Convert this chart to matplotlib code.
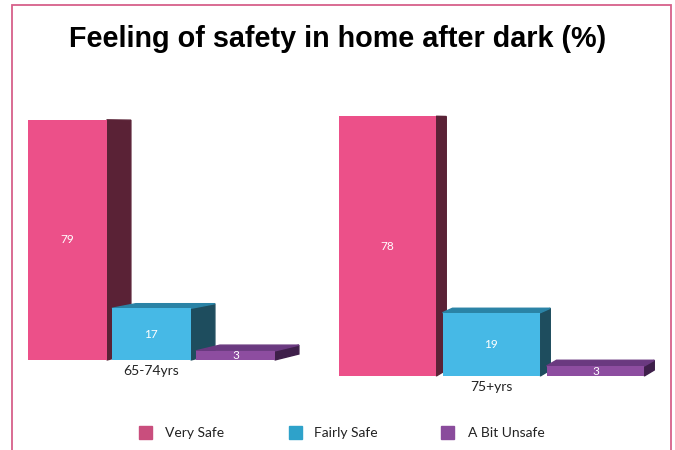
import matplotlib.pyplot as plt
from matplotlib.patches import Polygon, Rectangle

groups = ["65-74yrs", "75+yrs"]
series = ["Very Safe", "Fairly Safe", "A Bit Unsafe"]
values = [[79, 17, 3], [78, 19, 3]]

front_colors = ["#EC5089", "#46B9E6", "#8D4DA0"]
side_colors = ["#5A2236", "#1E4D5E", "#3E1F4A"]
top_colors = ["#F07AA5", "#2A83A6", "#6A3980"]
legend_colors = ["#C94E7D", "#2EA2CA", "#8A4C9C"]

W, H = 675, 450
fig = plt.figure(figsize=(W / 100, H / 100), dpi=100)

# per group: left px, bar pitch px, baseline px, px per unit, side depth px
layout = [(17, 84, 360, 3.04, 24), (325, 104, 376, 3.33, 10)]
XMIN, XMAX = -0.6, 2.9
YTOP = 100
BW = 0.94


def tilt(h):
    # how far (px) the back edge sits above the front edge at height h
    return 0.08 * (75 - h)


for (left, pitch, base, ppu, depth), vals, name in zip(layout, values, groups):
    ax = fig.add_axes([left / W, (H - base) / H, pitch * (XMAX - XMIN) / W, (base - YTOP) / H])
    ax.set_xlim(XMIN, XMAX)
    ax.set_ylim(0, (base - YTOP) / ppu)
    ax.axis("off")
    dx = depth / pitch
    xs = list(range(len(vals)))
    ax.bar(xs, vals, width=BW, color=front_colors, clip_on=False, zorder=3)
    for i, v in zip(xs, vals):
        xl, xr = i - BW / 2, i + BW / 2
        tt = tilt(v) / ppu
        tb = tilt(0) / ppu
        ax.add_patch(Polygon([(xr, 0), (xr + dx, tb), (xr + dx, v + tt), (xr, v)],
                             closed=True, color=side_colors[i], clip_on=False, zorder=2))
        if tt > 0:
            ax.add_patch(Polygon([(xl, v), (xr, v), (xr + dx, v + tt), (xl + dx, v + tt)],
                                 closed=True, color=top_colors[i], clip_on=False, zorder=2))
        ax.text(i, v / 2, str(v), color="white", fontsize=8.5, family="Lato",
                ha="center", va="center", zorder=4)
    ax.annotate(name, (1, 0), xytext=(0, -8), textcoords="offset points",
                ha="center", va="center", fontsize=10, family="Lato", color="#222222")

fig.text(0.5, 1 - 39 / H, "Feeling of safety in home after dark (%)",
         ha="center", va="center", fontsize=20.7, weight="bold", family="Liberation Sans")

# legend
for sx, tx, label, c in zip([139, 289, 441], [165, 314, 468], series, legend_colors):
    fig.add_artist(Rectangle((sx / W, 1 - 439 / H), 13 / W, 13 / H,
                             transform=fig.transFigure, color=c))
    fig.text(tx / W, 1 - 433 / H, label, ha="left", va="center",
             fontsize=10, family="Lato", color="#222222")

fig.add_artist(Rectangle((12 / W, -0.05), 659 / W, 1.05 - 5 / H, transform=fig.transFigure,
                         fill=False, edgecolor="#D7608A", lw=1.3))

fig.savefig("out.png", dpi=100)
